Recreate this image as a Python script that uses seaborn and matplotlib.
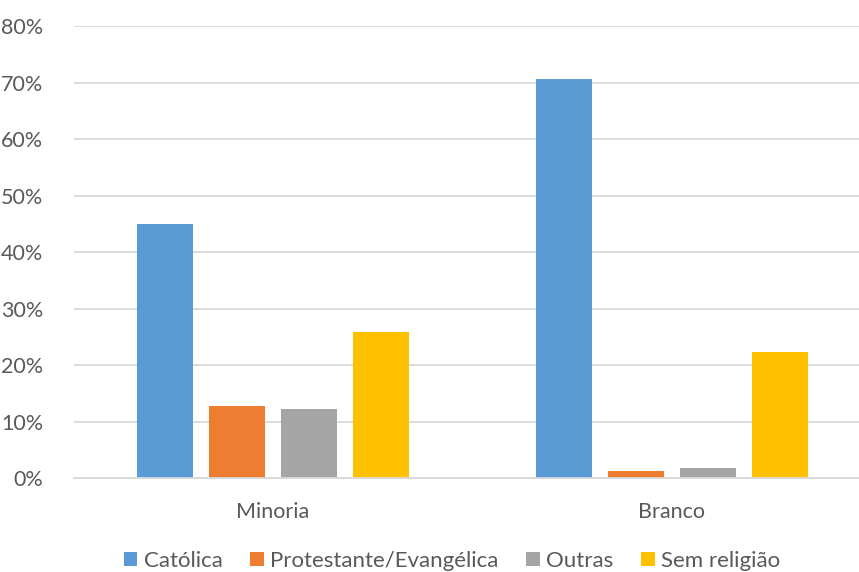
import matplotlib
matplotlib.use("Agg")
import matplotlib.pyplot as plt
import seaborn as sns
import pandas as pd
from matplotlib.ticker import PercentFormatter

groups = ["Minoria", "Branco"]
religions = ["Católica", "Protestante/Evangélica", "Outras", "Sem religião"]
minoria = [45.0, 12.8, 12.3, 25.9]
branco = [70.7, 1.3, 1.9, 22.3]
colors = ["#5B9BD5", "#ED7D31", "#A5A5A5", "#FFC000"]
yticks = [0, 10, 20, 30, 40, 50, 60, 70, 80]

rows = []
for g, vals in zip(groups, [minoria, branco]):
    for r, v in zip(religions, vals):
        rows.append({"grupo": g, "religiao": r, "valor": v})
df = pd.DataFrame(rows)

sns.set_theme(style="white")
plt.rcParams["font.family"] = ["Lato", "DejaVu Sans"]
txt = "#595959"

fig = plt.figure(figsize=(8.59, 5.72), dpi=100)
ax = fig.add_axes([73.5 / 859, 1 - 478.3 / 572, 798 / 859, (478.3 - 26) / 572])

sns.barplot(data=df, x="grupo", y="valor", hue="religiao", order=groups,
            hue_order=religions, palette=colors, width=0.722, gap=0.215,
            saturation=1, ax=ax, legend=True, edgecolor="none", linewidth=0)

ax.set_xlim(-0.5, 1.5)
ax.set_ylim(0, 80)
ax.set_yticks(yticks)
ax.yaxis.set_major_formatter(PercentFormatter(decimals=0))
ax.grid(axis="y", color="#D9D9D9", linewidth=1.3)
ax.set_axisbelow(True)
for s in ["top", "right", "left"]:
    ax.spines[s].set_visible(False)
ax.spines["bottom"].set_color("#D9D9D9")
ax.spines["bottom"].set_linewidth(1.3)
ax.tick_params(axis="both", length=0, labelsize=15.5, colors=txt)
ax.tick_params(axis="y", pad=22)
ax.tick_params(axis="x", pad=17)
ax.set_xlabel("")
ax.set_ylabel("")

handles, labels = ax.get_legend_handles_labels()
ax.get_legend().remove()
fig.legend(handles, labels, loc="center", bbox_to_anchor=(452 / 859, 1 - 561 / 572),
           ncol=4, frameon=False, fontsize=16, labelcolor=txt,
           handlelength=0.6, handleheight=0.6, handletextpad=0.3, columnspacing=1.25)

fig.savefig("out.png", dpi=100)
